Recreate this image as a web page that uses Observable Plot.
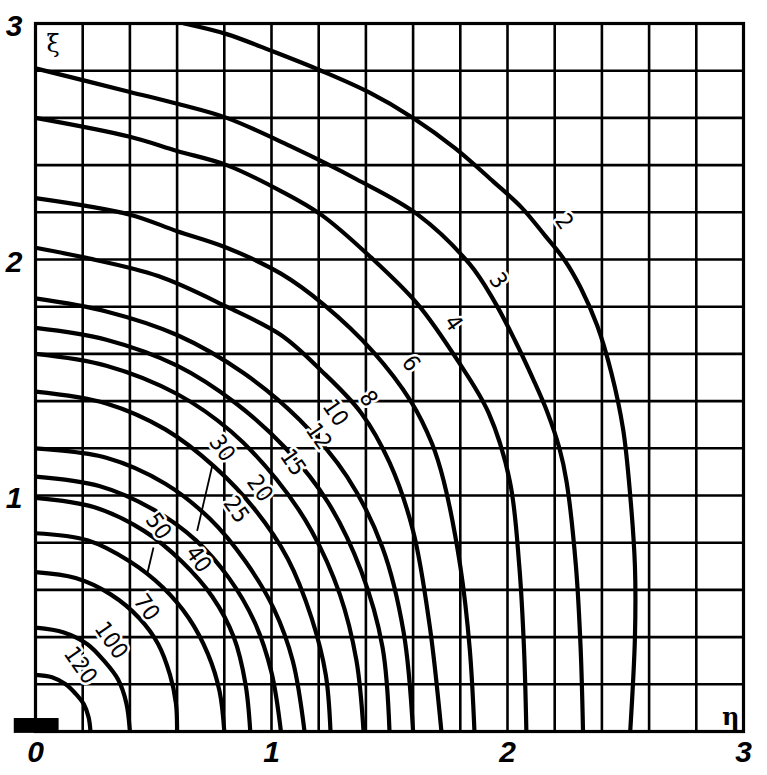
<!DOCTYPE html>
<html><head><meta charset="utf-8">
<script src="https://cdn.jsdelivr.net/npm/d3@7"></script>
<script src="https://cdn.jsdelivr.net/npm/@observablehq/plot@0.6"></script>
<style>body{margin:0;background:#fff}#chart{width:767px;height:775px}</style>
</head><body><div id="chart"></div>
<script>
// contour levels
const levels = [2, 3, 4, 6, 8, 10, 12, 15, 20, 25, 30, 40, 50, 70, 100, 120];
// points [eta, xi]
const c2 = [[0.63,3.0],[0.81,2.955],[1.01,2.88],[1.21,2.80],[1.41,2.71],[1.60,2.60],[1.78,2.47],[1.94,2.33],[2.06,2.22],[2.16,2.10],[2.24,2.00],[2.31,1.88],[2.38,1.72],[2.44,1.52],[2.49,1.28],[2.52,1.00],[2.54,0.70],[2.54,0.40],[2.52,0]];
const c3 = [[0,2.81],[0.40,2.71],[0.60,2.66],[0.81,2.60],[1.08,2.48],[1.36,2.34],[1.62,2.19],[1.84,1.98],[1.94,1.83],[2.03,1.66],[2.11,1.49],[2.17,1.35],[2.22,1.20],[2.25,1.06],[2.29,0.70],[2.31,0.35],[2.32,0]];
const c4 = [[0,2.60],[0.40,2.52],[0.60,2.46],[0.81,2.40],[1.04,2.29],[1.21,2.19],[1.42,2.01],[1.62,1.81],[1.79,1.57],[1.92,1.35],[2.01,1.06],[2.05,0.70],[2.07,0.35],[2.08,0]];
const c6 = [[0,2.26],[0.40,2.19],[0.60,2.12],[0.81,2.05],[1.04,1.94],[1.22,1.81],[1.43,1.61],[1.59,1.40],[1.68,1.22],[1.73,1.06],[1.80,0.70],[1.84,0.35],[1.86,0]];
const c8 = [[0,2.05],[0.2,2.01],[0.52,1.93],[0.81,1.80],[1.04,1.68],[1.21,1.53],[1.38,1.35],[1.50,1.14],[1.60,0.85],[1.67,0.45],[1.72,0]];
const c10 = [[0,1.835],[0.3,1.78],[0.6,1.68],[0.88,1.52],[1.12,1.32],[1.32,1.08],[1.47,0.78],[1.56,0.42],[1.60,0]];
const c12 = [[0,1.71],[0.3,1.66],[0.6,1.55],[0.85,1.39],[1.06,1.20],[1.24,0.97],[1.38,0.68],[1.47,0.36],[1.50,0]];
const c15 = [[0,1.60],[0.3,1.55],[0.6,1.43],[0.83,1.27],[1.02,1.07],[1.17,0.85],[1.29,0.58],[1.36,0.30],[1.39,0]];
const c20 = [[0,1.44],[0.3,1.39],[0.55,1.28],[0.76,1.12],[0.93,0.94],[1.07,0.73],[1.17,0.48],[1.23,0.24],[1.25,0]];
const c25 = [[0,1.20],[0.3,1.16],[0.55,1.05],[0.74,0.90],[0.89,0.72],[1.01,0.52],[1.09,0.30],[1.14,0]];
const c30 = [[0,1.08],[0.27,1.04],[0.50,0.94],[0.68,0.81],[0.82,0.65],[0.93,0.46],[1.00,0.25],[1.04,0]];
const c40 = [[0,0.99],[0.25,0.95],[0.46,0.85],[0.62,0.72],[0.75,0.57],[0.84,0.40],[0.89,0.20],[0.91,0]];
const c50 = [[0,0.84],[0.22,0.81],[0.40,0.72],[0.54,0.61],[0.65,0.48],[0.73,0.33],[0.78,0.17],[0.80,0]];
const c70 = [[0,0.675],[0.17,0.65],[0.32,0.58],[0.44,0.48],[0.52,0.37],[0.57,0.24],[0.595,0.12],[0.60,0]];
const c100 = [[0,0.44],[0.12,0.42],[0.22,0.37],[0.29,0.30],[0.35,0.22],[0.385,0.12],[0.40,0]];
const c120 = [[0,0.24],[0.07,0.23],[0.128,0.20],[0.17,0.16],[0.205,0.115],[0.225,0.06],[0.233,0]];
const curves = [c2, c3, c4, c6, c8, c10, c12, c15, c20, c25, c30, c40, c50, c70, c100, c120];

// curve label anchors
const labelEta = [2.24, 1.96, 1.77, 1.59, 1.41, 1.27, 1.20, 1.09, 0.95, 0.85, 0.79, 0.69, 0.52, 0.47, 0.32, 0.19];
const labelXi  = [2.16, 1.91, 1.73, 1.56, 1.41, 1.35, 1.25, 1.14, 1.03, 0.94, 1.20, 0.73, 0.87, 0.525, 0.386, 0.28];
// leader lines (label -> curve)
const leaders = [
  {k: 30, eta1: 0.75, xi1: 1.13, eta2: 0.685, xi2: 0.85},
  {k: 50, eta1: 0.50, xi1: 0.78, eta2: 0.475, xi2: 0.675}
];
// axis ticks
const xTicks = [0, 1, 2, 3];
const yTicks = [1, 2, 3];
const gridTicks = [0, 0.2, 0.4, 0.6, 0.8, 1.0, 1.2, 1.4, 1.6, 1.8, 2.0, 2.2, 2.4, 2.6, 2.8, 3.0];
const originBlock = [{x1: -0.09, x2: 0.10, y1: -0.008, y2: 0.055}];

const rows = levels.flatMap((k, i) => curves[i].map(([eta, xi]) => ({k, eta, xi})));
const labels = levels.map((k, i) => ({k, eta: labelEta[i], xi: labelXi[i]}));

const tickFont = {fontSize: 30, fontStyle: "italic", fontWeight: "bold", fontFamily: "Liberation Sans, Arial, sans-serif"};

const plot = Plot.plot({
  width: 767, height: 775,
  marginLeft: 35, marginRight: 24, marginTop: 23, marginBottom: 44,
  x: {domain: [0, 3]}, y: {domain: [0, 3]},
  style: {background: "white", color: "black"},
  marks: [
    Plot.ruleX(gridTicks, {x: d => d, stroke: "black", strokeWidth: 2.6}),
    Plot.ruleY(gridTicks, {y: d => d, stroke: "black", strokeWidth: 2.6}),
    Plot.line(rows, {x: "eta", y: "xi", z: "k", curve: "catmull-rom", stroke: "black", strokeWidth: 4.2, clip: true}),
    Plot.link(leaders, {x1: "eta1", y1: "xi1", x2: "eta2", y2: "xi2", stroke: "black", strokeWidth: 1.8}),
    Plot.frame({stroke: "black", strokeWidth: 3.2}),
    Plot.rect(originBlock, {x1: "x1", x2: "x2", y1: "y1", y2: "y2", fill: "black", clip: false}),
    Plot.text(labels, {x: "eta", y: "xi", text: d => String(d.k), rotate: 55, fontSize: 23,
      fontFamily: "DejaVu Sans Condensed, DejaVu Sans, sans-serif", fill: "black",
      stroke: "white", strokeWidth: 5}),
    Plot.text(["ξ"], {frameAnchor: "top-left", dx: 11, dy: 11, fontSize: 24, fontFamily: "DejaVu Serif, serif", fill: "black"}),
    Plot.text(["η"], {frameAnchor: "bottom-right", dx: -4, dy: -7, fontSize: 24, fontWeight: "bold", fontFamily: "DejaVu Serif, serif", fill: "black"}),
    Plot.axisX({ticks: xTicks, tickSize: 0, tickPadding: 9, tickFormat: d => String(d), ...tickFont}),
    Plot.axisY({ticks: yTicks, tickSize: 0, tickPadding: 13, tickFormat: d => String(d), dy: 3, ...tickFont})
  ]
});
document.getElementById("chart").append(plot);
</script>
</body></html>
